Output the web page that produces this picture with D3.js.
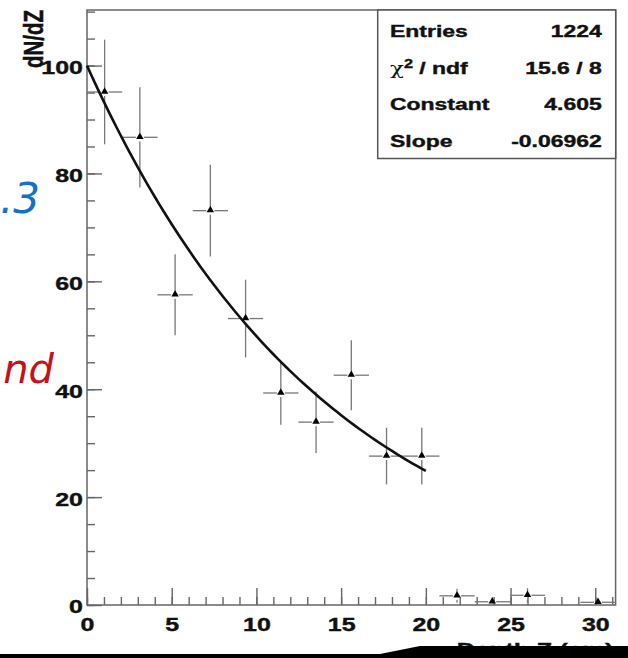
<!DOCTYPE html>
<html>
<head>
<meta charset="utf-8">
<script src="https://cdn.jsdelivr.net/npm/d3@7"></script>
<style>
  html, body { margin: 0; padding: 0; background: #fff; }
  svg { display: block; }
  .axis text { font-family: "Liberation Sans", Arial, sans-serif; font-weight: bold; fill: #111; stroke: #111; stroke-width: 0.4; }
  .axis path { display: none; }
  .axis line { stroke: #666; stroke-width: 1.4; }
  .bold { font-family: "Liberation Sans", Arial, sans-serif; font-weight: bold; fill: #111; stroke: #111; stroke-width: 0.4; }
</style>
</head>
<body>
<div class="container"></div>
<script>
// histogram bins (depth Z in cm), contents and errors
const binCenters = [1.04, 3.12, 5.2, 7.28, 9.36, 11.44, 13.52, 15.6, 17.68, 19.76, 21.84, 23.92, 26.0, 28.08, 30.16];
const binWidth = 2.08;
const counts = [95.1, 86.7, 57.5, 73.1, 53.1, 39.3, 33.9, 42.6, 27.6, 27.6, 1.7, 0.6, 1.8, 0, 0.5];
const errors = [9.7, 9.3, 7.5, 8.5, 7.2, 5.9, 5.7, 6.5, 5.25, 5.25, 1.3, 0.8, 1.3, 0, 0.7];

// fit: expo, parameters from the stats box
const fitConstant = 4.605;
const fitSlope = -0.06962;
const fitRange = [0, 20];

const statsLabels = ["Entries", "χ² / ndf", "Constant", "Slope"];
const statsValues = ["1224", "15.6 / 8", "4.605", "-0.06962"];

const xMajorTicks = [0, 5, 10, 15, 20, 25, 30];
const yMajorTicks = [0, 20, 40, 60, 80, 100];

const chartProps = {
  width: 628,
  height: 658,
  left: 87,
  right: 615.6,
  top: 10,
  bottom: 605,
  stretch: 1.35
};

function drawChart() {
  const { width, height, left, right, top, bottom, stretch } = chartProps;
  const svg = d3
    .select(".container")
    .append("svg")
    .attr("width", width)
    .attr("height", height);

  const xScale = d3.scaleLinear().domain([0, 31.2]).range([left, right]);
  const yScale = d3.scaleLinear().domain([0, 110.3]).range([bottom, top]);

  // frame
  svg
    .append("rect")
    .attr("x", left)
    .attr("y", top)
    .attr("width", right - left)
    .attr("height", bottom - top)
    .attr("fill", "none")
    .attr("stroke", "#666")
    .attr("stroke-width", 1.5);

  // minor ticks
  svg
    .append("g")
    .attr("class", "axis")
    .attr("transform", `translate(0, ${bottom})`)
    .call(d3.axisBottom(xScale).tickValues(d3.range(0, 32, 1)).tickSize(-8).tickFormat(""));
  svg
    .append("g")
    .attr("class", "axis")
    .attr("transform", `translate(${left}, 0)`)
    .call(d3.axisLeft(yScale).tickValues(d3.range(0, 111, 5)).tickSize(-8).tickFormat(""));

  // major ticks with labels
  const xAxis = svg
    .append("g")
    .attr("class", "axis")
    .attr("transform", `translate(0, ${bottom})`)
    .call(d3.axisBottom(xScale).tickValues(xMajorTicks).tickSize(-17).tickPadding(13).tickFormat(d3.format("d")));
  xAxis
    .selectAll("text")
    .style("font-size", "18.5px")
    .attr("transform", `scale(${stretch},1)`);

  const yAxis = svg
    .append("g")
    .attr("class", "axis")
    .attr("transform", `translate(${left}, 0)`)
    .call(d3.axisLeft(yScale).tickValues(yMajorTicks).tickSize(-15).tickFormat(d3.format("d")));
  yAxis
    .selectAll("text")
    .style("font-size", "18.5px")
    .attr("x", null)
    .attr("dy", "0.43em")
    .attr("transform", `translate(-4,0) scale(${stretch},1)`);

  // axis titles
  svg
    .append("text")
    .attr("class", "bold")
    .attr("transform", `translate(43, ${top}) scale(${stretch},1) rotate(-90)`)
    .attr("text-anchor", "end")
    .style("font-size", "20.5px")
    .text("dN/dZ");

  svg
    .append("text")
    .attr("class", "bold")
    .attr("transform", `translate(613.5, 656) scale(${stretch},1)`)
    .attr("text-anchor", "end")
    .style("font-size", "19px")
    .text("Depth Z (cm)");

  // error bars, ROOT style with a gap round the marker
  const gap = 4;
  const bins = binCenters.map((c, i) => ({ c, v: counts[i], e: errors[i] })).filter(d => d.v > 0);
  const errG = svg.append("g").attr("stroke", "#777").attr("stroke-width", 1.3);
  bins.forEach(d => {
    const cx = xScale(d.c);
    const cy = yScale(d.v);
    const segs = [
      [xScale(d.c - binWidth / 2), cy, cx - gap, cy],
      [cx + gap, cy, xScale(d.c + binWidth / 2), cy]
    ];
    if (yScale(d.v + d.e) < cy - gap) segs.push([cx, yScale(d.v + d.e), cx, cy - gap]);
    if (yScale(d.v - d.e) > cy + gap) segs.push([cx, cy + gap, cx, yScale(d.v - d.e)]);
    errG
      .selectAll(null)
      .data(segs)
      .enter()
      .append("line")
      .attr("x1", s => s[0])
      .attr("y1", s => s[1])
      .attr("x2", s => s[2])
      .attr("y2", s => s[3]);
  });

  // fit curve
  const fitPts = d3.range(fitRange[0], fitRange[1] + 0.001, 0.25).map(x => [x, Math.exp(fitConstant + fitSlope * x)]);
  svg
    .append("path")
    .datum(fitPts)
    .attr("fill", "none")
    .attr("stroke", "#111")
    .attr("stroke-width", 2.6)
    .attr("d", d3.line().x(d => xScale(d[0])).y(d => yScale(d[1])));

  // markers
  svg
    .append("g")
    .selectAll("path")
    .data(bins)
    .enter()
    .append("path")
    .attr("transform", d => `translate(${xScale(d.c)}, ${yScale(d.v) - 0.5})`)
    .attr("d", d3.symbol().type(d3.symbolTriangle).size(24))
    .attr("fill", "#000");

  // stats box
  const box = { x: 377.7, y: top, w: 238, h: 148.5 };
  svg
    .append("rect")
    .attr("x", box.x)
    .attr("y", box.y)
    .attr("width", box.w)
    .attr("height", box.h)
    .attr("fill", "#fff")
    .attr("stroke", "#555")
    .attr("stroke-width", 1.5);

  const rowY = d3.scalePoint().domain(d3.range(statsLabels.length)).range([37.3, 146.7]);
  const statsG = svg
    .append("g")
    .attr("class", "bold")
    .style("font-size", "17px");

  statsLabels.forEach((lab, i) => {
    const t = statsG
      .append("text")
      .attr("transform", `translate(390, ${rowY(i)}) scale(${stretch},1)`);
    if (lab.startsWith("χ")) {
      t.append("tspan").style("font-weight", "normal").style("stroke-width", 0).style("font-family", "DejaVu Serif, serif").text("χ");
      t.append("tspan").attr("dy", -6).style("font-size", "12px").text("2");
      t.append("tspan").attr("dy", 6).text(" / ndf");
    } else {
      t.text(lab);
    }
    statsG
      .append("text")
      .attr("transform", `translate(601.7, ${rowY(i)}) scale(${stretch},1)`)
      .attr("text-anchor", "end")
      .text(statsValues[i]);
  });

  // cropped handwritten notes at the left edge
  svg
    .append("text")
    .attr("x", 40)
    .attr("y", 213)
    .attr("text-anchor", "end")
    .style("font-family", "DejaVu Sans, sans-serif")
    .style("font-size", "42px")
    .style("font-style", "italic")
    .attr("fill", "#1570c8")
    .text(".3");
  svg
    .append("text")
    .attr("x", 54)
    .attr("y", 383)
    .attr("text-anchor", "end")
    .style("font-family", "DejaVu Sans, sans-serif")
    .style("font-size", "40px")
    .style("font-style", "italic")
    .attr("fill", "#c4111b")
    .text("nd");

  // black strip along the bottom
  svg
    .append("polygon")
    .attr("points", "0,654 380,654 420,646 628,646 628,658 0,658")
    .attr("fill", "#000");
}

document.addEventListener("DOMContentLoaded", drawChart);
</script>
</body>
</html>
